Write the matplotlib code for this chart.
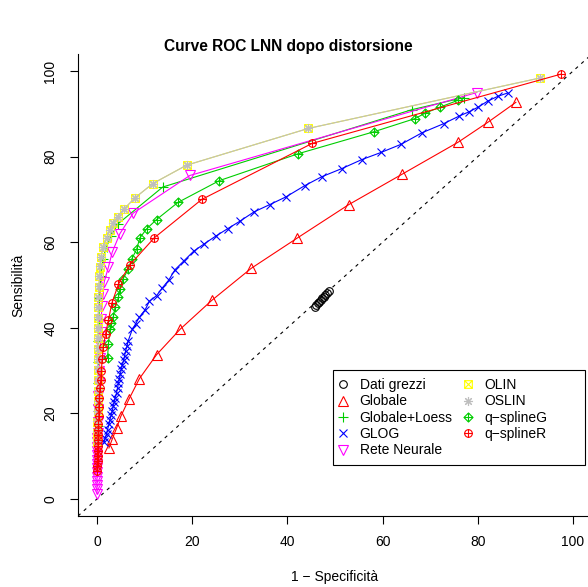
import matplotlib
matplotlib.use("Agg")
import matplotlib.pyplot as plt
from matplotlib.path import Path
from matplotlib.lines import Line2D
from matplotlib.patches import Rectangle

plt.rcParams['font.family'] = ['Liberation Sans', 'DejaVu Sans']

# ---- data ----
grezzi_x = [45.8, 46.1, 46.4, 46.7, 47.0, 47.3, 47.7, 48.0, 48.4, 48.8]
grezzi_y = [44.9, 45.3, 45.7, 46.1, 46.5, 46.9, 47.3, 47.7, 48.2, 48.6]

globale_x = [2.5, 3.2, 4.1, 5.0, 6.7, 8.9, 12.5, 17.5, 24.1, 32.4, 42.1, 52.9, 64.1, 75.9, 82.2, 88.0]
globale_y = [11.9, 14.0, 16.5, 19.3, 23.3, 28.1, 33.7, 39.7, 46.4, 53.9, 61.0, 68.8, 75.9, 83.4, 88.1, 92.7]

loess_x = [0.1, 0.1, 0.2, 0.2, 0.3, 0.3, 0.4, 0.5, 0.8, 1.2, 2.0, 3.0, 4.3, 13.8, 66.2, 77.0]
loess_y = [13.0, 17.0, 22.0, 27.0, 32.0, 37.0, 42.0, 47.0, 52.0, 56.0, 59.0, 61.5, 64.2, 72.9, 91.0, 93.8]

glog_x = [1.5, 1.7, 2.0, 2.2, 2.5, 2.7, 3.0, 3.2, 3.4, 3.6, 3.8, 4.1, 4.3, 4.5, 4.7, 4.9, 5.1,
          5.3, 5.6, 5.8, 6.0, 6.3, 6.5, 7.4, 8.1, 8.9, 10.1, 11.0, 12.5, 13.7, 15.1, 16.4, 18.3,
          20.3, 22.5, 24.9, 27.5, 30.0, 33.0, 36.3, 39.7, 43.6, 47.2, 51.4, 55.6, 59.7, 63.9,
          68.3, 72.8, 76.1, 78.2, 80.1, 82.1, 84.2, 86.3]
glog_y = [13.2, 14.2, 15.2, 16.2, 17.4, 18.5, 19.6, 20.6, 21.6, 22.6, 23.6, 24.8, 25.9, 27.0,
          28.1, 29.2, 30.3, 31.3, 32.4, 33.5, 34.6, 35.7, 36.8, 39.6, 40.9, 42.5, 44.2, 46.2,
          47.5, 49.3, 51.2, 53.6, 55.7, 57.9, 59.6, 61.4, 63.2, 64.9, 67.1, 68.8, 70.6, 73.2,
          75.3, 77.2, 79.3, 81.0, 82.9, 85.6, 87.7, 89.5, 90.5, 91.6, 93.0, 94.1, 94.9]

rete_x = [0.0, 0.0, 0.0, 0.0, 0.0, 0.0, 0.0, 0.0, 0.0, 0.0, 0.0, 0.0, 0.0, 0.0, 0.1, 0.1, 0.2,
          0.3, 0.4, 0.5, 0.6, 0.7, 0.8, 0.9, 1.0, 1.3, 1.5, 2.4, 3.2, 4.8, 7.6, 19.5, 79.8]
rete_y = [1.2, 2.2, 3.2, 4.2, 5.2, 6.2, 7.2, 8.2, 9.2, 10.2, 11.2, 12.2, 13.2, 14.3, 15.5, 18.0,
          21.0, 24.0, 27.0, 30.0, 33.0, 36.0, 39.0, 42.0, 45.2, 47.9, 50.7, 54.2, 57.7, 62.0,
          66.8, 75.6, 95.0]

olin_x = [0.0, 0.0, 0.0, 0.1, 0.1, 0.1, 0.1, 0.1, 0.2, 0.2, 0.2, 0.2, 0.3, 0.3, 0.3, 0.4, 0.5,
          0.6, 0.8, 1.3, 2.0, 2.7, 3.4, 4.3, 5.7, 8.0, 11.7, 18.8, 44.4, 93.1]
olin_y = [13.2, 15.5, 18.0, 20.4, 22.9, 25.3, 27.8, 30.2, 32.6, 35.1, 37.5, 39.9, 42.4, 44.8,
          47.2, 49.6, 52.0, 54.3, 56.5, 58.9, 61.0, 62.8, 64.5, 66.0, 67.8, 70.4, 73.7, 78.0,
          86.6, 98.4]
oslin_x = [0.0, 0.0, 0.0, 0.0, 0.1, 0.1, 0.1, 0.1, 0.1, 0.2, 0.2, 0.2, 0.2, 0.3, 0.3, 0.4, 0.5,
           0.6, 0.8, 1.3, 2.0, 2.7, 3.4, 4.3, 5.7, 8.0, 11.7, 18.8, 44.4, 93.1]
oslin_y = [13.5, 15.8, 18.2, 20.6, 23.0, 25.5, 27.9, 30.3, 32.8, 35.2, 37.6, 40.0, 42.5, 44.9,
           47.3, 49.7, 52.1, 54.4, 56.5, 58.9, 61.0, 62.8, 64.5, 66.0, 67.8, 70.4, 73.7, 78.0,
           86.6, 98.4]

qsg_x = [2.2, 2.4, 2.7, 3.0, 3.4, 3.8, 4.5, 4.8, 5.5, 6.6, 7.3, 8.3, 9.0, 10.4, 12.5, 17.0,
         25.7, 42.3, 58.1, 66.8, 69.0, 72.1, 75.9]
qsg_y = [33.0, 36.3, 39.7, 41.2, 42.5, 44.8, 47.1, 49.1, 51.5, 53.8, 56.1, 58.3, 61.0, 63.1,
         65.3, 69.3, 74.4, 80.7, 85.8, 88.9, 90.2, 91.6, 93.2]

qsr_x = [0.0, 0.0, 0.1, 0.1, 0.1, 0.2, 0.2, 0.3, 0.3, 0.3, 0.4, 0.4, 0.5, 0.6, 0.8, 0.9, 1.1,
         1.3, 1.8, 2.4, 3.1, 4.5, 6.9, 12.0, 22.0, 45.2, 97.5]
qsr_y = [6.6, 7.7, 8.8, 10.0, 11.2, 12.4, 13.7, 15.0, 16.2, 17.5, 19.4, 21.4, 23.7, 25.9, 27.8,
         30.0, 32.7, 35.4, 38.6, 41.8, 45.7, 50.2, 54.7, 61.0, 70.0, 83.1, 99.3]

# ---- R-like markers ----
def mk(verts, codes):
    return Path(verts, codes)

square = mk([(-1, -1), (1, -1), (1, 1), (-1, 1), (-1, -1)], [1, 2, 2, 2, 79])
diag = mk([(-1, -1), (1, 1), (-1, 1), (1, -1)], [1, 2, 1, 2])
plus = mk([(-1, 0), (1, 0), (0, -1), (0, 1)], [1, 2, 1, 2])
diamond = mk([(0, -1), (1, 0), (0, 1), (-1, 0), (0, -1)], [1, 2, 2, 2, 79])
box_x = Path.make_compound_path(square, diag)
diamond_plus = Path.make_compound_path(diamond, plus)
circle_plus = Path.make_compound_path(Path.unit_circle(), plus)

red = "#FF0000"
green = "#00CD00"

series = [
    ("Dati grezzi", grezzi_x, grezzi_y, "black", "o", 5.5, None),
    ("Globale", globale_x, globale_y, red, "^", 7.5, "-"),
    ("Globale+Loess", loess_x, loess_y, green, "+", 7.5, "-"),
    ("GLOG", glog_x, glog_y, "#0000FF", "x", 5.5, "-"),
    ("Rete Neurale", rete_x, rete_y, "#FF00FF", "v", 7.5, "-"),
    ("OLIN", olin_x, olin_y, "#FFFF00", box_x, 5.5, "-"),
    ("OSLIN", oslin_x, oslin_y, "#BEBEBE", (8, 2, 0), 6.5, "-"),
    ("q\u2212splineG", qsg_x, qsg_y, green, diamond_plus, 6.5, "-"),
    ("q\u2212splineR", qsr_x, qsr_y, red, circle_plus, 5.5, "-"),
]

fig = plt.figure(figsize=(5.88, 5.87), dpi=100)
ax = fig.add_axes([78 / 588, 71 / 587, 514 / 588, 462 / 587])

ax.axline((0, 0), (1, 1), color="black", lw=0.8, ls=(0, (3, 4)))

handles = []
for name, xs, ys, col, m, ms, ls in series:
    ax.plot(xs, ys, color=col, lw=0.8, ls=ls if ls else "none", marker=m, ms=ms,
            mfc="none", mec=col, mew=0.8)
    handles.append(Line2D([], [], ls="none", marker=m, ms=ms, mfc="none", mec=col,
                          mew=0.8, label=name))

ax.set_xlim(-4, 104)
ax.set_ylim(-4, 104)
ax.set_xticks([0, 20, 40, 60, 80, 100])
ax.set_yticks([0, 20, 40, 60, 80, 100])
for lab in ax.get_yticklabels():
    lab.set_rotation(90)
    lab.set_va("center")
ax.tick_params(direction="out", length=6, width=0.8, labelsize=10, pad=8)
ax.tick_params(axis="y", pad=9)
ax.spines["top"].set_visible(False)
ax.spines["right"].set_visible(False)
ax.spines["left"].set_linewidth(0.8)
ax.spines["bottom"].set_linewidth(0.8)

ax.set_xlabel("1 \u2212 Specificit\u00e0", fontsize=10, labelpad=15)
ax.set_ylabel("Sensibilit\u00e0", fontsize=10, labelpad=13)
fig.text(288 / 588, 1 - 47 / 587, "Curve ROC LNN dopo distorsione", ha="center",
         va="center", fontsize=11.2, fontweight="bold")

# legend box drawn like R's (wide right margin)
fig.patches.append(Rectangle((333 / 588, 1 - 465 / 587), 252 / 588, 95 / 587,
                             transform=fig.transFigure, fill=False, lw=0.8,
                             edgecolor="black"))
leg = fig.legend(handles=handles, ncol=2, loc="upper left",
                 bbox_to_anchor=(336 / 588, 1 - 378 / 587), fontsize=10,
                 frameon=False, borderpad=0, labelspacing=0.17, handlelength=1.0,
                 handletextpad=0.7, columnspacing=0.6, borderaxespad=0)

fig.savefig("out.png", dpi=100)
